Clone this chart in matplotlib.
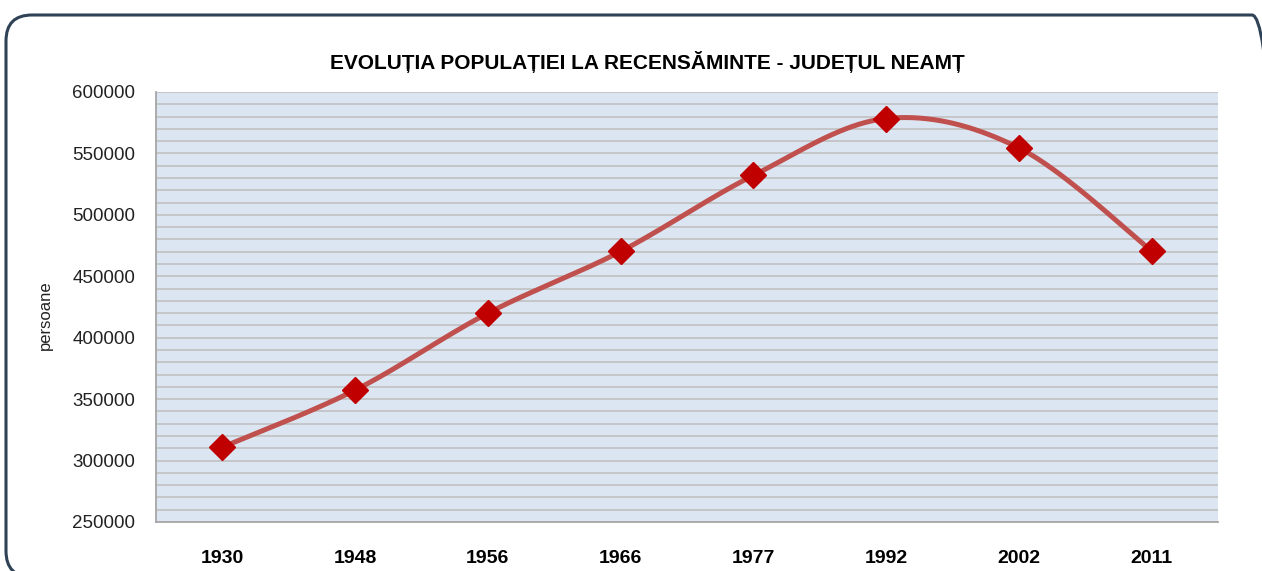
import numpy as np
import matplotlib.pyplot as plt
from matplotlib.patches import FancyBboxPatch

ani = ["1930", "1948", "1956", "1966", "1977", "1992", "2002", "2011"]
populatie = [310887, 357348, 419949, 470206, 532096, 578420, 554516, 470766]

titlu = "EVOLUȚIA POPULAȚIEI LA RECENSĂMINTE - JUDEȚUL NEAMȚ"

W, H = 1262, 571
fig = plt.figure(figsize=(W / 100, H / 100), dpi=100)
fig.patch.set_facecolor("white")

# chenarul rotunjit, desenat in pixeli pe o axa care acopera toata figura
bg = fig.add_axes([0, 0, 1, 1], zorder=-1)
bg.set_xlim(0, W)
bg.set_ylim(0, H)
bg.axis("off")
bg.add_patch(FancyBboxPatch((6, H - 577), 1278 - 6, 577 - 15,
                            boxstyle="round,pad=0,rounding_size=26",
                            fill=False, edgecolor="#2f4256", linewidth=2.2,
                            clip_on=False))

ax = fig.add_axes([156 / W, 1 - 522 / H, (1218 - 156) / W, (522 - 92) / H])
ax.set_facecolor("#dce6f2")

x = np.arange(len(ani))
y = np.array(populatie, dtype=float)

# curba netezita ca in Excel (spline Bezier prin puncte)
px = np.concatenate([[x[0]], x, [x[-1]]])
py = np.concatenate([[y[0]], y, [y[-1]]])
cx, cy = [], []
t = np.linspace(0, 1, 40)
for i in range(1, len(px) - 2):
    p0 = np.array([px[i], py[i]])
    p3 = np.array([px[i + 1], py[i + 1]])
    p1 = p0 + (np.array([px[i + 1], py[i + 1]]) - np.array([px[i - 1], py[i - 1]])) / 6
    p2 = p3 - (np.array([px[i + 2], py[i + 2]]) - np.array([px[i], py[i]])) / 6
    b = ((1 - t) ** 3)[:, None] * p0 + (3 * (1 - t) ** 2 * t)[:, None] * p1 \
        + (3 * (1 - t) * t ** 2)[:, None] * p2 + (t ** 3)[:, None] * p3
    cx.extend(b[:, 0])
    cy.extend(b[:, 1])

ax.plot(cx, cy, color="#c0504d", linewidth=3.6, zorder=3, solid_capstyle="round")
ax.plot(x, y, linestyle="none", marker="D", markersize=13, color="#c00000",
        markeredgecolor="#c00000", zorder=4)

ax.set_xlim(-0.5, len(ani) - 0.5)
ax.set_ylim(250000, 600000)
ax.set_yticks(np.arange(250000, 600001, 50000))
ax.set_yticks(np.arange(250000, 600001, 10000), minor=True)
ax.grid(True, axis="y", which="both", color="#c3c3c3", linewidth=1.3, zorder=1)
ax.set_axisbelow(True)
ax.set_xticks(x)

fam = ["Liberation Sans", "DejaVu Sans"]
ax.set_xticklabels(ani, fontsize=14, fontweight="bold", family=fam)
ax.set_yticklabels([str(v) for v in range(250000, 600001, 50000)],
                   fontsize=13.5, family=fam, color="#222222")
ax.tick_params(axis="both", which="both", length=0)
ax.tick_params(axis="x", pad=20)
ax.tick_params(axis="y", pad=15)

for s in ["top", "right"]:
    ax.spines[s].set_visible(False)
ax.spines["left"].set_color("#a6a6a6")
ax.spines["bottom"].set_color("#a6a6a6")
ax.spines["left"].set_linewidth(1.3)
ax.spines["bottom"].set_linewidth(1.3)

fig.text(45 / W, 1 - 315 / H, "persoane", rotation=90, ha="center", va="center",
         fontsize=12, family=fam, color="#222222")
fig.text(647 / W, 1 - 62 / H, titlu, ha="center", va="center", fontsize=15,
         fontweight="bold", family=fam)

fig.savefig("out.png", dpi=100)
